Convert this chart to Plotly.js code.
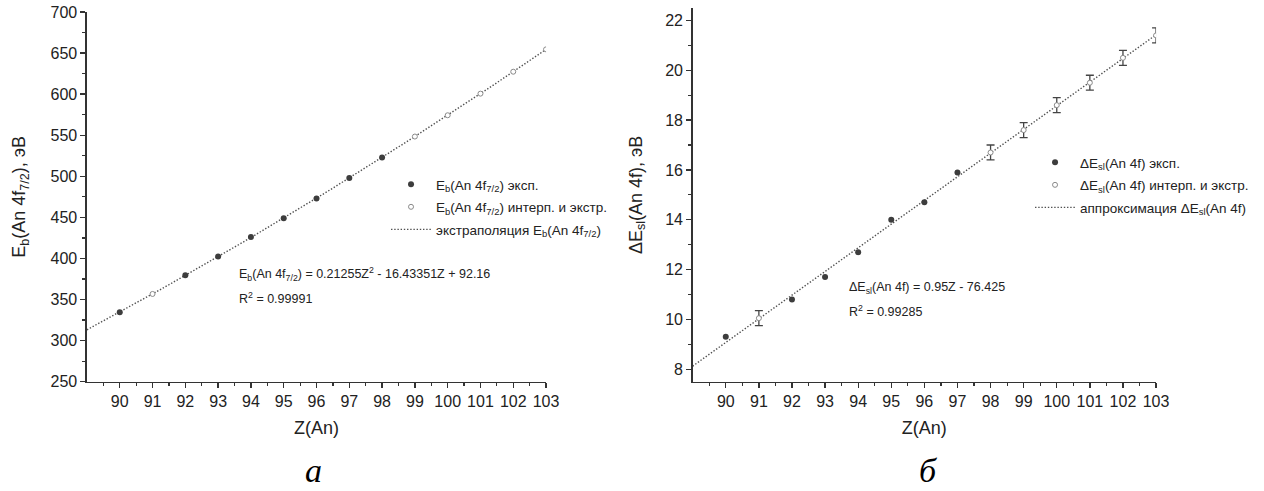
<!DOCTYPE html>
<html>
<head>
<meta charset="utf-8">
<script src="https://cdn.plot.ly/plotly-3.0.1.min.js"></script>
<style>
  html, body { margin: 0; padding: 0; background: #ffffff; }
  #chart { width: 1264px; height: 491px; }
</style>
</head>
<body>
<div id="chart"></div>
<script>
// Atomic number axis
const zTicks = [90, 91, 92, 93, 94, 95, 96, 97, 98, 99, 100, 101, 102, 103];

// (a) binding energy of An 4f7/2, eV
const ebExpZ = [90, 92, 93, 94, 95, 96, 97, 98];
const ebExp = [334.5, 379.5, 402.5, 426, 449, 473, 498, 523];
const ebIntZ = [91, 99, 100, 101, 102, 103];
const ebInt = [356.8, 548.4, 574.3, 600.6, 627.3, 654.5];
// quadratic fit coefficients: a*Z^2 + b*Z + c
const ebFit = [0.21255, -16.43351, 92.16];
const ebR2 = '0.99991';

// (б) spin-orbit splitting of An 4f, eV
const dExpZ = [90, 92, 93, 94, 95, 96, 97];
const dExp = [9.3, 10.8, 11.7, 12.7, 14.0, 14.7, 15.9];
const dIntZ = [91, 98, 99, 100, 101, 102, 103];
const dInt = [10.05, 16.7, 17.6, 18.6, 19.5, 20.5, 21.4];
const dErr = [0.3, 0.3, 0.3, 0.3, 0.3, 0.3, 0.3];
// linear fit coefficients: k*Z + m
const dFit = [0.95, -76.425];
const dR2 = '0.99285';

const zFitRange = [89, 103];

// fit curves sampled along Z from the stated equations
const fitZ = [];
for (let z = zFitRange[0]; z <= zFitRange[1] + 1e-9; z += 0.25) fitZ.push(+z.toFixed(2));
const ebFitY = fitZ.map(z => ebFit[0] * z * z + ebFit[1] * z + ebFit[2]);
const dFitY = fitZ.map(z => dFit[0] * z + dFit[1]);

const FONT = 'Liberation Sans, Arial, sans-serif';
const INK = '#222222';
const AXIS = '#333333';
const DOT_FILL = '#3d3d3d';
const OPEN_LINE = '#8a8a8a';
const FIT_LINE = '#505050';
const FIT_DASH = '1.4px,1.8px';

const lblEbExp = 'E<sub>b</sub>(An 4f<sub>7/2</sub>) эксп.';
const lblEbInt = 'E<sub>b</sub>(An 4f<sub>7/2</sub>) интерп. и экстр.';
const lblEbFit = 'экстраполяция E<sub>b</sub>(An 4f<sub>7/2</sub>)';
const lblDExp = 'ΔE<sub>sl</sub>(An 4f) эксп.';
const lblDInt = 'ΔE<sub>sl</sub>(An 4f) интерп. и экстр.';
const lblDFit = 'аппроксимация ΔE<sub>sl</sub>(An 4f)';

const traces = [
  { x: fitZ, y: ebFitY, xaxis: 'x', yaxis: 'y', mode: 'lines', name: lblEbFit,
    line: { color: FIT_LINE, width: 1.4, dash: FIT_DASH }, legend: 'legend', legendrank: 3, legendgroup: 'a3' },
  { x: ebExpZ, y: ebExp, xaxis: 'x', yaxis: 'y', mode: 'markers', name: lblEbExp,
    marker: { color: DOT_FILL, size: 6, symbol: 'circle' }, legend: 'legend', legendrank: 1, legendgroup: 'a1' },
  { x: ebIntZ, y: ebInt, xaxis: 'x', yaxis: 'y', mode: 'markers', name: lblEbInt,
    marker: { color: '#ffffff', size: 5, symbol: 'circle', line: { color: OPEN_LINE, width: 1 } },
    legend: 'legend', legendrank: 2, legendgroup: 'a2' },

  { x: fitZ, y: dFitY, xaxis: 'x2', yaxis: 'y2', mode: 'lines', name: lblDFit,
    line: { color: FIT_LINE, width: 1.4, dash: FIT_DASH }, legend: 'legend2', legendrank: 3, legendgroup: 'b3' },
  { x: dExpZ, y: dExp, xaxis: 'x2', yaxis: 'y2', mode: 'markers', name: lblDExp,
    marker: { color: DOT_FILL, size: 6, symbol: 'circle' }, legend: 'legend2', legendrank: 1, legendgroup: 'b1' },
  { x: dIntZ, y: dInt, xaxis: 'x2', yaxis: 'y2', mode: 'markers', name: lblDInt,
    marker: { color: '#ffffff', size: 5, symbol: 'circle', line: { color: OPEN_LINE, width: 1 } },
    error_y: { type: 'data', array: dErr, visible: true, color: '#444444', thickness: 1.3, width: 4 },
    legend: 'legend2', legendrank: 2, legendgroup: 'b2' }
];

function xAxis(domain, anchor) {
  return {
    domain: domain, anchor: anchor, range: zFitRange,
    tickmode: 'array', tickvals: zTicks, ticktext: zTicks.map(String),
    ticks: 'outside', ticklen: 5, tickwidth: 1.3, tickcolor: AXIS,
    minor: { tick0: 89.5, dtick: 1, ticks: 'outside', ticklen: 3, tickwidth: 1.2, tickcolor: AXIS },
    showline: true, linecolor: AXIS, linewidth: 1.5, mirror: false,
    showgrid: false, zeroline: false,
    tickfont: { family: FONT, size: 16, color: INK },
    title: { text: 'Z(An)', font: { family: FONT, size: 18, color: INK }, standoff: 12 }
  };
}

function yAxis(domain, anchor, range, tick0, dtick, minor0, title, standoff) {
  return {
    domain: domain, anchor: anchor, range: range,
    tickmode: 'linear', tick0: tick0, dtick: dtick,
    ticks: 'outside', ticklen: 5, tickwidth: 1.3, tickcolor: AXIS,
    minor: { tick0: minor0, dtick: dtick, ticks: 'outside', ticklen: 3, tickwidth: 1.2, tickcolor: AXIS },
    showline: true, linecolor: AXIS, linewidth: 1.5, mirror: false,
    showgrid: false, zeroline: false,
    tickfont: { family: FONT, size: 16, color: INK },
    title: { text: title, font: { family: FONT, size: 18, color: INK }, standoff: standoff }
  };
}

const legendBase = {
  bgcolor: 'rgba(0,0,0,0)', borderwidth: 0,
  font: { family: FONT, size: 13.5, color: INK },
  xanchor: 'left', yanchor: 'top', itemwidth: 40, tracegroupgap: 2,
  itemclick: false, itemdoubleclick: false
};

const noteFont = { family: FONT, size: 12.5, color: INK };
const letterFont = { family: 'Liberation Serif, Times New Roman, serif', size: 34, color: '#000000' };

const layout = {
  width: 1264, height: 491,
  margin: { l: 0, r: 0, t: 0, b: 0 },
  paper_bgcolor: '#ffffff', plot_bgcolor: '#ffffff',
  showlegend: true,
  xaxis: xAxis([0.0688, 0.4320], 'y'),
  yaxis: yAxis([0.2226, 0.9756], 'x', [250, 700], 250, 50, 275, 'E<sub>b</sub>(An 4f<sub>7/2</sub>), эВ', 20),
  xaxis2: xAxis([0.548, 0.9146], 'y2'),
  yaxis2: yAxis([0.2226, 0.9837], 'x2', [7.5, 22.5], 8, 2, 9, 'ΔE<sub>sl</sub>(An 4f), эВ', 18),
  legend: Object.assign({}, legendBase, { x: 0.3054, y: 0.6558 }),
  legend2: Object.assign({}, legendBase, { x: 0.8149, y: 0.7006 }),
  annotations: [
    { xref: 'x', yref: 'y', x: 93.57, y: 381, xanchor: 'left', yanchor: 'middle', showarrow: false,
      text: 'E<sub>b</sub>(An 4f<sub>7/2</sub>) = ' + ebFit[0] + 'Z<sup>2</sup> - ' + Math.abs(ebFit[1]) + 'Z + ' + ebFit[2],
      font: noteFont },
    { xref: 'x', yref: 'y', x: 93.57, y: 352, xanchor: 'left', yanchor: 'middle', showarrow: false,
      text: 'R<sup>2</sup> = ' + ebR2, font: noteFont },
    { xref: 'x2', yref: 'y2', x: 93.66, y: 11.28, xanchor: 'left', yanchor: 'middle', showarrow: false,
      text: 'ΔE<sub>sl</sub>(An 4f) = ' + dFit[0] + 'Z - ' + Math.abs(dFit[1]), font: noteFont },
    { xref: 'x2', yref: 'y2', x: 93.66, y: 10.33, xanchor: 'left', yanchor: 'middle', showarrow: false,
      text: 'R<sup>2</sup> = ' + dR2, font: noteFont },
    { xref: 'paper', yref: 'paper', x: 0.2484, y: 0.0, xanchor: 'center', yanchor: 'bottom', showarrow: false,
      text: '<i>а</i>', font: letterFont },
    { xref: 'paper', yref: 'paper', x: 0.7342, y: 0.0, xanchor: 'center', yanchor: 'bottom', showarrow: false,
      text: '<i>б</i>', font: letterFont }
  ]
};

Plotly.newPlot('chart', traces, layout, { staticPlot: true, displayModeBar: false });
</script>
</body>
</html>
